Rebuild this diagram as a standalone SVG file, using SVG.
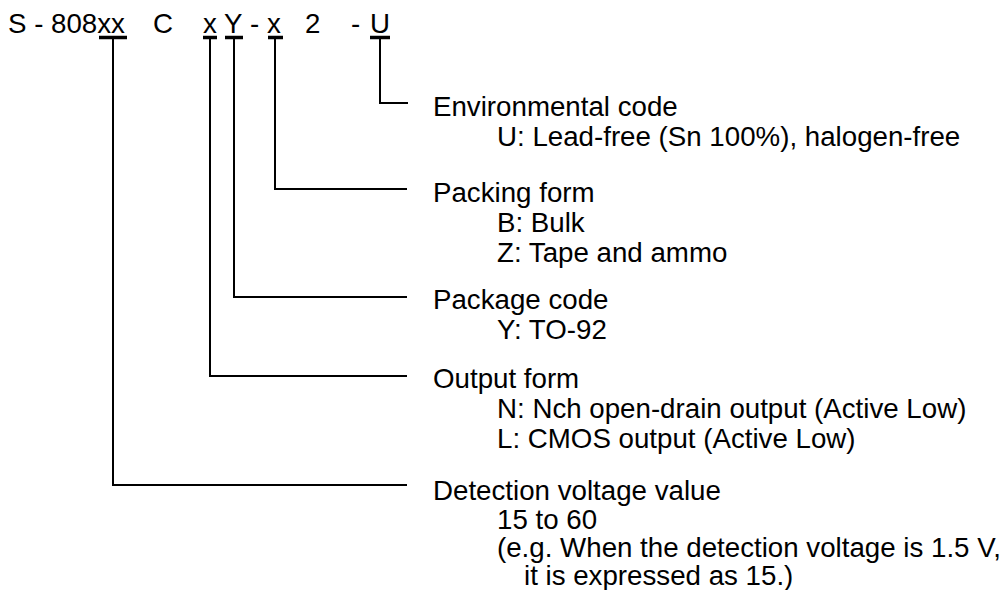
<svg xmlns="http://www.w3.org/2000/svg" width="1008" height="590" viewBox="0 0 1008 590">
<style>
text{font-family:"Liberation Sans",Arial,sans-serif;font-size:27.7px;fill:#000}
.bar{stroke:#000;stroke-width:3.5;fill:none}
.con{stroke:#000;stroke-width:2;fill:none}
</style>
<rect width="1008" height="590" fill="#fff"/>
<g id="title">
<text y="33"><tspan x="8">S - 808xx</tspan><tspan x="153">C</tspan><tspan x="203">x</tspan><tspan x="224">Y</tspan><tspan x="250">-</tspan><tspan x="267">x</tspan><tspan x="305">2</tspan><tspan x="351">-</tspan><tspan x="370">U</tspan></text>
</g>
<g id="underbars">
<line class="bar" x1="99" y1="37.5" x2="127" y2="37.5"/>
<line class="bar" x1="203" y1="37.5" x2="217" y2="37.5"/>
<line class="bar" x1="225" y1="37.5" x2="243" y2="37.5"/>
<line class="bar" x1="268" y1="37.5" x2="283" y2="37.5"/>
<line class="bar" x1="370" y1="37.5" x2="390" y2="37.5"/>
</g>
<g id="connectors">
<polyline class="con" points="380,39 380,103 408,103"/>
<polyline class="con" points="275,39 275,189 407,189"/>
<polyline class="con" points="234,39 234,297 407,297"/>
<polyline class="con" points="210,39 210,376 407,376"/>
<polyline class="con" points="113,39 113,485 407,485"/>
</g>
<g id="env">
<text x="433" y="116">Environmental code</text>
<text x="497" y="146">U: Lead-free (Sn 100%), halogen-free</text>
</g>
<g id="packing">
<text x="433" y="202">Packing form</text>
<text x="497" y="232">B: Bulk</text>
<text x="497" y="262">Z: Tape and ammo</text>
</g>
<g id="package">
<text x="433" y="309">Package code</text>
<text x="497" y="339">Y: TO-92</text>
</g>
<g id="output">
<text x="433" y="388">Output form</text>
<text x="497" y="418">N: Nch open-drain output (Active Low)</text>
<text x="497" y="448">L: CMOS output (Active Low)</text>
</g>
<g id="detection">
<text x="433" y="500">Detection voltage value</text>
<text x="497" y="529">15 to 60</text>
<text x="497" y="557">(e.g. When the detection voltage is 1.5 V,</text>
<text x="524" y="585">it is expressed as 15.)</text>
</g>
</svg>
